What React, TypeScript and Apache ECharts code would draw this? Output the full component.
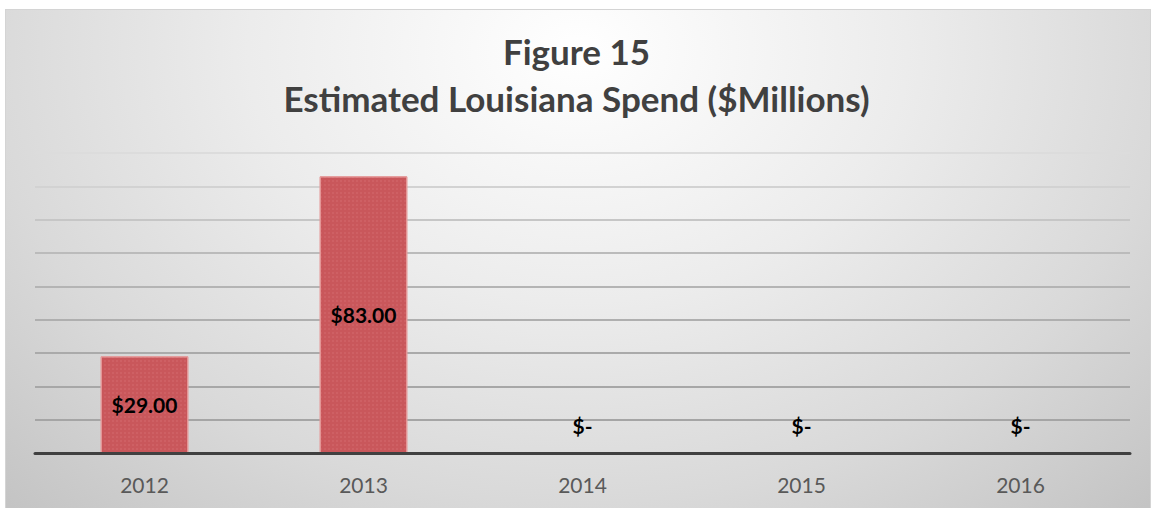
import React, { useEffect, useRef } from "react";
import * as echarts from "echarts";

const categories = ["2012", "2013", "2014", "2015", "2016"];
const spendValues = [29, 83, 0, 0, 0];
const titleLines = ["Figure 15", "Estimated Louisiana Spend ($Millions)"];
const yMax = 90;
const yInterval = 10;
const gridColors = [
  "#a3a3a3", "#a5a5a5", "#a7a7a7", "#aaaaaa", "#afafaf",
  "#b4b4b4", "#bbbbbb", "#c6c6c6", "#d2d2d2", "#dcdcdc",
];

const FONT = "Lato, 'Open Sans', sans-serif";

export default function App() {
  const ref = useRef<HTMLDivElement>(null);
  useEffect(() => {
    if (!ref.current) return;
    const chart = echarts.init(ref.current, null, { renderer: "svg" });
    const fmt = (v: number) => (v === 0 ? "$-" : "$" + v.toFixed(2));
    chart.setOption({
      animation: false,
      backgroundColor: "transparent",
      title: {
        text: titleLines.join("\n"),
        left: "center",
        top: 22,
        textStyle: {
          fontFamily: FONT,
          fontWeight: "bold",
          fontSize: 35,
          lineHeight: 47,
          color: "#404040",
        },
      },
      grid: { left: 35, right: 23, top: 153, bottom: 55, containLabel: false },
      xAxis: {
        type: "category",
        data: categories,
        axisLine: { show: true, lineStyle: { color: "#404040", width: 3 } },
        axisTick: { show: false },
        axisLabel: {
          fontFamily: FONT,
          fontSize: 21,
          color: "#595959",
          margin: 21,
        },
        splitLine: { show: false },
        z: 5,
      },
      yAxis: {
        type: "value",
        min: 0,
        max: yMax,
        interval: yInterval,
        axisLabel: { show: false },
        axisLine: { show: false },
        axisTick: { show: false },
        splitLine: { show: true, lineStyle: { color: gridColors, width: 2 } },
      },
      series: [
        {
          type: "bar",
          barWidth: "40%",
          data: spendValues.map((v) => ({
            value: v,
            label:
              v === 0
                ? { position: "top", distance: 17 }
                : { position: "inside" },
          })),
          itemStyle: {
            color: "#c9575b",
            borderColor: "#e59a9a",
            borderWidth: 1,
            decal: {
              symbol: "rect",
              symbolSize: 0.5,
              dashArrayX: [[2, 2]],
              dashArrayY: [2, 2],
              color: "rgba(240,150,150,0.55)",
              rotation: 0,
            },
          },
          label: {
            show: true,
            formatter: (p: any) => fmt(p.value),
            fontFamily: FONT,
            fontWeight: "bold",
            fontSize: 21,
            color: "#000000",
          },
          z: 3,
        },
      ],
    });
    return () => chart.dispose();
  }, []);

  return (
    <div
      style={{
        position: "fixed",
        left: 0,
        top: 0,
        width: 1153,
        height: 508,
        background: "#ffffff",
        overflow: "hidden",
      }}
    >
      <div
        style={{
          position: "absolute",
          left: 5,
          top: 9,
          width: 1146,
          height: 505,
          border: "1px solid #d4d4d4",
          boxSizing: "border-box",
          background:
            "radial-gradient(ellipse 72% 125% at 50% 8%, #ffffff 0%, #ececec 40%, #d9d9d9 72%, #c4c4c4 100%)",
        }}
      />
      <div
        ref={ref}
        style={{ position: "absolute", left: 0, top: 0, width: 1153, height: 508 }}
      />
    </div>
  );
}
